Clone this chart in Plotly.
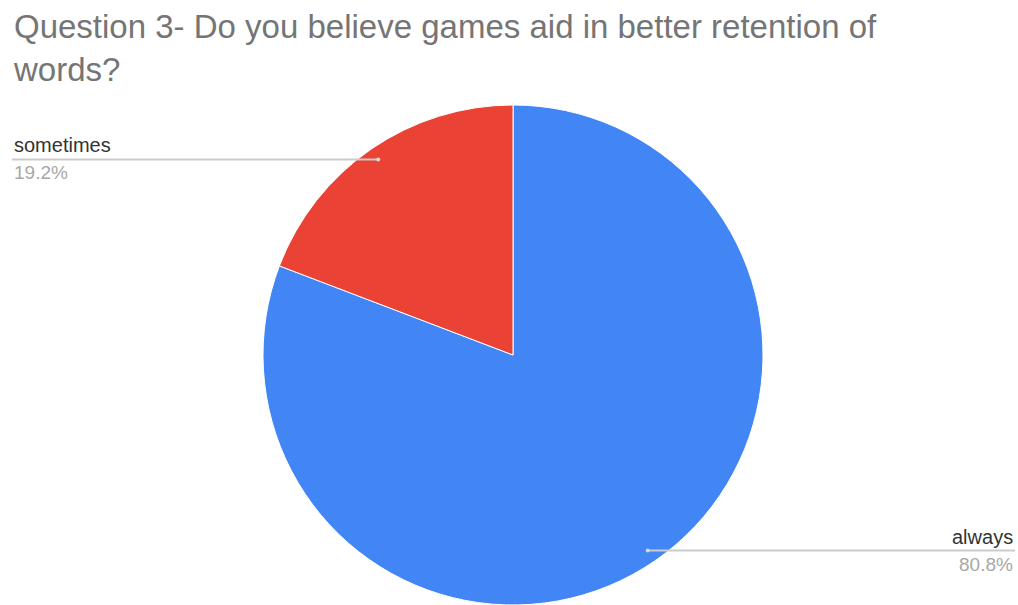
import math
import plotly.graph_objects as go

# Survey answers
labels = ["always", "sometimes"]
values = [80.8, 19.2]
colors = ["#4285F4", "#EA4335"]
title_lines = ["Question 3- Do you believe games aid in better retention of", "words?"]

W, H = 1018, 605
# pie placement in pixels (center and radius)
cx, cy, R = 513, 355, 250
FONT = "Liberation Sans, Arial"

fig = go.Figure(go.Pie(
    labels=labels,
    values=values,
    marker=dict(colors=colors, line=dict(color="white", width=1)),
    sort=False,
    direction="clockwise",
    rotation=0,
    textinfo="none",
    hoverinfo="label+percent",
    showlegend=False,
    domain=dict(x=[(cx - R) / W, (cx + R) / W], y=[1 - (cy + R) / H, 1 - (cy - R) / H]),
))

shapes = []
annotations = []

# leader lines with labels, anchored at each slice's mid-angle
total = sum(values)
start = 0.0
for lab, val in zip(labels, values):
    frac = val / total
    mid = (start + frac / 2) * 2 * math.pi
    start += frac
    px = cx + 0.95 * R * math.sin(mid)
    py = cy - 0.95 * R * math.cos(mid)
    pct = f"{frac * 100:.1f}%"
    if px >= cx:
        x0, x1, tx, anchor = px, 1015, 1015, "right"
    else:
        x0, x1, tx, anchor = 12, px, 12, "left"
    shapes.append(dict(type="line", xref="paper", yref="paper",
                       x0=x0 / W, x1=x1 / W, y0=1 - py / H, y1=1 - py / H,
                       line=dict(color="#cccccc", width=2)))
    shapes.append(dict(type="circle", xref="paper", yref="paper",
                       x0=(px - 2) / W, x1=(px + 2) / W, y0=1 - (py + 2) / H, y1=1 - (py - 2) / H,
                       line=dict(width=0), fillcolor="#d9d9d9"))
    annotations.append(dict(x=tx / W, y=1 - (py - 1) / H, xref="paper", yref="paper",
                            text=lab, showarrow=False, xanchor=anchor, yanchor="bottom",
                            font=dict(family=FONT, size=20, color="#333333")))
    annotations.append(dict(x=tx / W, y=1 - (py + 1) / H, xref="paper", yref="paper",
                            text=pct, showarrow=False, xanchor=anchor, yanchor="top",
                            font=dict(family=FONT, size=19, color="#a8a8a8")))

# two-line title
annotations.append(dict(x=11 / W, y=1 - 6 / H, xref="paper", yref="paper",
                        text="<br>".join(title_lines), showarrow=False, align="left",
                        xanchor="left", yanchor="top",
                        font=dict(family=FONT, size=33, color="#757575")))

fig.update_layout(
    width=W, height=H,
    margin=dict(l=0, r=0, t=0, b=0),
    paper_bgcolor="white",
    plot_bgcolor="white",
    shapes=shapes,
    annotations=annotations,
)

fig.write_html("out.html")
